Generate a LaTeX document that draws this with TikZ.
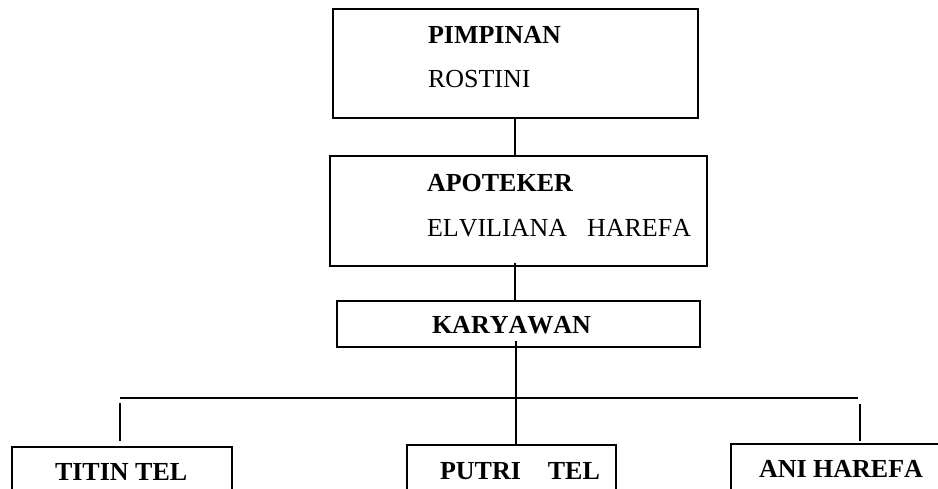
\documentclass[tikz,border=0pt]{standalone}
\usepackage{fontspec}
\setmainfont[Kerning=Off]{Liberation Serif}
\begin{document}
\begin{tikzpicture}[x=1pt,y=-1pt,
  box/.style={draw,line width=1.2pt,inner sep=0pt,outer sep=0pt,rectangle},
  lbl/.style={inner sep=0pt,outer sep=0pt,anchor=base west,font=\fontsize{26}{30}\selectfont},
  blbl/.style={lbl,font=\fontsize{26}{30}\selectfont\bfseries},
  conn/.style={line width=1.2pt}]
\useasboundingbox (0,0) rectangle (938,488);
\clip (0,0) rectangle (938,488);
% boxes
\node[box,minimum width=365pt,minimum height=109pt] (pimp) at (515.5,63.5) {};
\node[box,minimum width=377pt,minimum height=110pt] (apt) at (518.5,211) {};
\node[box,minimum width=363pt,minimum height=46pt] (kary) at (518.5,324) {};
\node[box,minimum width=220pt,minimum height=80pt] (titin) at (122,487) {};
\node[box,minimum width=209pt,minimum height=80pt] (putri) at (511.5,485) {};
\node[box,minimum width=229pt,minimum height=80pt] (ani) at (845.5,484) {};
% texts
\node[blbl] (tpimp) at (428,43) {PIMPINAN};
\node[lbl] (trost) at (428,87) {ROSTINI};
\node[blbl] (tapt) at (427,191) {APOTEKER};
\node[lbl] (telv) at (427,236) {ELVILIANA\hspace{20pt}HAREFA};
\node[blbl] (tkary) at (432,333) {KARYAWAN};
\node[blbl] (ttitin) at (55,480) {TITIN TEL};
\node[blbl] (tputri) at (440,479) {PUTRI\hspace{27pt}TEL};
\node[blbl] (tani) at (759,477) {ANI HAREFA};
% connector points
\coordinate (a1) at (515,118);
\coordinate (a2) at (515,156);
\coordinate (b1) at (515,263);
\coordinate (b2) at (515,301);
\coordinate (c1) at (516,341);
\coordinate (c2) at (516,445);
\coordinate (busL) at (120,398);
\coordinate (busR) at (858,398);
\coordinate (tl1) at (120,403);
\coordinate (tl2) at (120,441);
\coordinate (tr1) at (860,404);
\coordinate (tr2) at (860,441);
% connectors
\draw[conn] (a1) -- (a2);
\draw[conn] (b1) -- (b2);
\draw[conn] (c1) -- (c2);
\draw[conn] (busL) -- (busR);
\draw[conn] (tl1) -- (tl2);
\draw[conn] (tr1) -- (tr2);
\end{tikzpicture}
\end{document}
